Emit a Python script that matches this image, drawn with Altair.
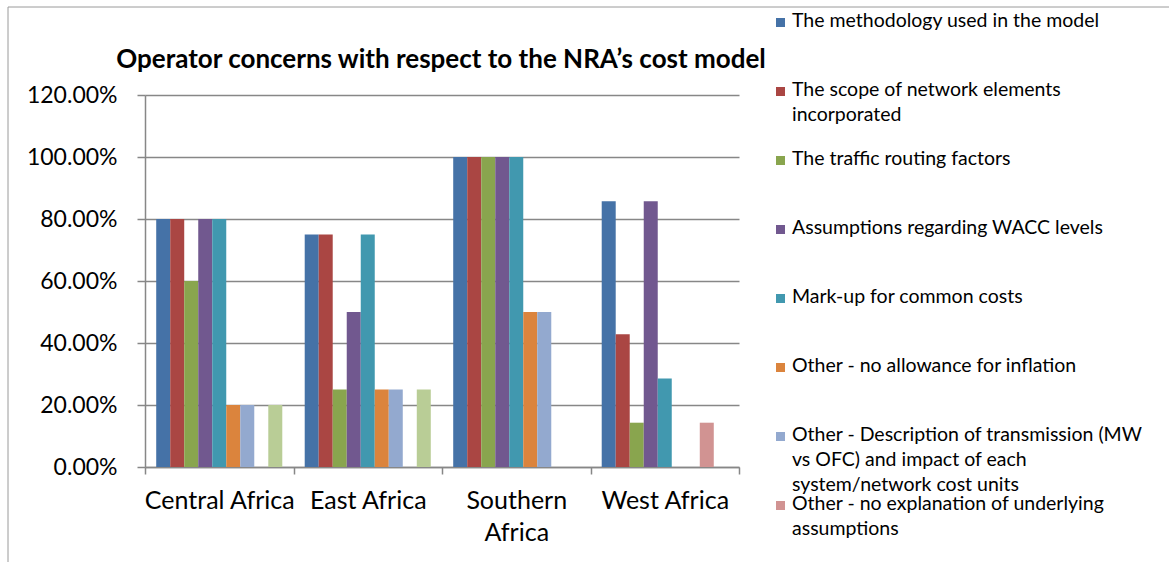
import altair as alt
import pandas as pd

regions = ["Central Africa", "East Africa", "Southern Africa", "West Africa"]
series = [
    "The methodology used in the model",
    "The scope of network elements incorporated",
    "The traffic routing factors",
    "Assumptions regarding WACC levels",
    "Mark-up for common costs",
    "Other - no allowance for inflation",
    "Other - Description of transmission (MW vs OFC) and impact of each system/network cost units",
    "Other - no explanation of underlying assumptions",
    "Other - unspecified",
]
colors = ["#4572A7", "#AA4643", "#89A54E", "#71588F", "#4198AF",
          "#DB843D", "#93A9CF", "#D19392", "#B9CD96"]

# values per series, in region order (Central, East, Southern, West)
methodology = [0.80, 0.75, 1.00, 0.8571]
scope = [0.80, 0.75, 1.00, 0.4286]
traffic = [0.60, 0.25, 1.00, 0.1429]
wacc = [0.80, 0.50, 1.00, 0.8571]
markup = [0.80, 0.75, 1.00, 0.2857]
inflation = [0.20, 0.25, 0.50, 0.0]
transmission = [0.20, 0.25, 0.50, 0.0]
no_explanation = [0.0, 0.0, 0.0, 0.1429]
unspecified = [0.20, 0.25, 0.0, 0.0]

all_values = [methodology, scope, traffic, wacc, markup, inflation,
              transmission, no_explanation, unspecified]

# legend text as shown (wrapped); the ninth series is not visible in the legend
legend_lines = [
    ["The methodology used in the model"],
    ["The scope of network elements", "incorporated"],
    ["The traffic routing factors"],
    ["Assumptions regarding WACC levels"],
    ["Mark-up for common costs"],
    ["Other - no allowance for inflation"],
    ["Other - Description of transmission (MW", "vs OFC) and impact of each",
     "system/network cost units"],
    ["Other - no explanation of underlying", "assumptions"],
]

title_text = "Operator concerns with respect to the NRA\u2019s cost model"

rows = []
for s, vals in zip(series, all_values):
    for r, v in zip(regions, vals):
        rows.append({"region": r, "series": s, "value": v})
df = pd.DataFrame(rows)

legend_df = pd.DataFrame({"series": series[:8], "lines": legend_lines})

x_expr = "datum.label == 'Southern Africa' ? ['Southern', 'Africa'] : datum.label"

FONT = "Lato"
GRID = "#878787"
color_scale = alt.Scale(domain=series, range=colors)

bars = alt.Chart(df).mark_bar(size=14).encode(
    x=alt.X("region:N", sort=regions, title=None,
            scale=alt.Scale(paddingInner=0, paddingOuter=0),
            axis=alt.Axis(labelAngle=0, labelExpr=x_expr, labelFont=FONT,
                          labelFontSize=25, labelColor="black", labelPadding=14,
                          tickBand="extent", tickSize=7, tickColor=GRID,
                          domainColor=GRID, domainWidth=1.5, tickWidth=1.5,
                          labelLineHeight=32, grid=False)),
    xOffset=alt.XOffset("series:N", sort=series,
                        scale=alt.Scale(paddingInner=0, paddingOuter=0.8)),
    y=alt.Y("value:Q", title=None,
            scale=alt.Scale(domain=[0, 1.2], nice=False),
            axis=alt.Axis(format=".2%", values=[0, 0.2, 0.4, 0.6, 0.8, 1.0, 1.2],
                          labelFont=FONT, labelFontSize=23, labelColor="black",
                          labelPadding=20, tickSize=8, tickColor=GRID, tickWidth=1.5,
                          domainColor=GRID, domainWidth=1.5,
                          gridColor=GRID, gridWidth=1.5)),
    color=alt.Color("series:N", sort=series, scale=color_scale, legend=None),
)

legend_y = alt.Y("series:N", sort=series[:8], axis=None,
                 scale=alt.Scale(type="point", padding=0, range=[-72.5, 410.5]))

legend_sym = alt.Chart(legend_df).mark_square(size=81, opacity=1).encode(
    x=alt.value(635.5), y=legend_y,
    color=alt.Color("series:N", scale=color_scale, legend=None),
)
legend_txt = alt.Chart(legend_df).mark_text(
    align="left", baseline="top", font=FONT, fontSize=19.5, lineHeight=25,
    color="black", dy=-11
).encode(x=alt.value(647), y=legend_y, text="lines")

title = alt.Chart(pd.DataFrame({"t": [title_text]})).mark_text(
    font=FONT, fontSize=26, fontWeight="bold", color="black",
    align="center", baseline="alphabetic"
).encode(x=alt.value(296), y=alt.value(-27), text="t:N")

one = pd.DataFrame({"k": [0]})
border_left = alt.Chart(one).mark_rule(color="#9a9a9a", strokeWidth=1).encode(
    x=alt.value(-137), y=alt.value(-88), y2=alt.value(470))
border_top = alt.Chart(one).mark_rule(color="#9a9a9a", strokeWidth=1).encode(
    x=alt.value(-137), x2=alt.value(1030), y=alt.value(-88))

chart = alt.layer(bars, legend_sym, legend_txt, title, border_left, border_top).resolve_scale(
    y="independent"
).properties(
    width=594, height=372,
    autosize=alt.AutoSizeParams(type="none"),
    padding={"left": 145, "top": 95, "right": 430, "bottom": 95},
).configure_view(stroke=None)

chart.save("out.html", embed_options={"renderer": "svg", "actions": False})
